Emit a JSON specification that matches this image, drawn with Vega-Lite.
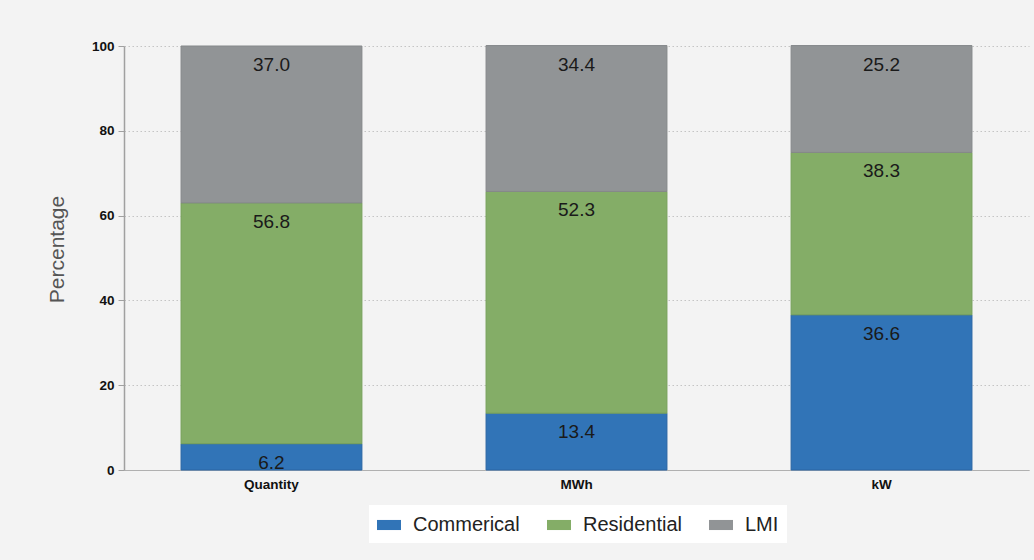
{
  "$schema": "https://vega.github.io/schema/vega-lite/v6.json",
  "width": 905,
  "height": 424,
  "autosize": {"type": "none"},
  "padding": {"left": 124, "top": 46, "right": 5, "bottom": 90},
  "background": "#f3f3f3",
  "config": {
    "view": {"stroke": null},
    "font": "Liberation Sans"
  },
  "data": {
    "values": [
      {"category": "Quantity", "type": "Commerical", "ord": 1, "value": 6.2},
      {"category": "Quantity", "type": "Residential", "ord": 2, "value": 56.8},
      {"category": "Quantity", "type": "LMI", "ord": 3, "value": 37.0},
      {"category": "MWh", "type": "Commerical", "ord": 1, "value": 13.4},
      {"category": "MWh", "type": "Residential", "ord": 2, "value": 52.3},
      {"category": "MWh", "type": "LMI", "ord": 3, "value": 34.4},
      {"category": "kW", "type": "Commerical", "ord": 1, "value": 36.6},
      {"category": "kW", "type": "Residential", "ord": 2, "value": 38.3},
      {"category": "kW", "type": "LMI", "ord": 3, "value": 25.2}
    ]
  },
  "encoding": {
    "x": {
      "field": "category",
      "type": "nominal",
      "sort": ["Quantity", "MWh", "kW"],
      "scale": {"paddingInner": 0.407, "paddingOuter": 0.187},
      "axis": {
        "title": null,
        "labelAngle": 0,
        "labelFont": "Liberation Sans",
        "labelFontWeight": "bold",
        "labelFontSize": 13.5,
        "labelColor": "#111111",
        "labelPadding": 7,
        "ticks": false,
        "domain": true,
        "domainColor": "#b0b0b0",
        "domainWidth": 1
      }
    },
    "y": {
      "field": "value",
      "type": "quantitative",
      "stack": "zero",
      "scale": {"domain": [0, 100], "nice": false},
      "axis": {
        "title": "Percentage",
        "titleFont": "Liberation Sans",
        "titleFontSize": 21,
        "titleFontWeight": "normal",
        "titleColor": "#555555",
        "titlePadding": 24,
        "titleY": 203,
        "values": [0, 20, 40, 60, 80, 100],
        "labelFont": "Liberation Sans",
        "labelFontWeight": "bold",
        "labelFontSize": 13.5,
        "labelColor": "#111111",
        "labelPadding": 4,
        "tickSize": 6,
        "tickColor": "#a0a0a0",
        "domainColor": "#a0a0a0",
        "domainWidth": 1.5,
        "grid": true,
        "gridColor": "#c4c4c4",
        "gridDash": [1.5, 2.5],
        "gridWidth": 1.2
      }
    },
    "order": {"field": "ord", "type": "quantitative"}
  },
  "layer": [
    {
      "mark": {"type": "bar", "strokeWidth": 1},
      "encoding": {
        "color": {
          "field": "type",
          "type": "nominal",
          "sort": ["Commerical", "Residential", "LMI"],
          "scale": {
            "domain": ["Commerical", "Residential", "LMI"],
            "range": ["#3174b7", "#84ad67", "#919496"]
          },
          "legend": {
            "title": null,
            "orient": "none",
            "direction": "horizontal",
            "legendX": 245,
            "legendY": 459,
            "fillColor": "#ffffff",
            "padding": 8,
            "labelFont": "Liberation Sans",
            "labelFontSize": 20,
            "labelColor": "#222222",
            "labelOffset": 12,
            "columnPadding": 27,
            "symbolType": "M-1,-0.42H1V0.42H-1Z",
            "symbolSize": 576,
            "symbolStrokeWidth": 0,
            "symbolOpacity": 1
          }
        },
        "stroke": {
          "field": "type",
          "type": "nominal",
          "scale": {
            "domain": ["Commerical", "Residential", "LMI"],
            "range": ["#2a65a3", "#76a05a", "#85888a"]
          },
          "legend": null
        }
      }
    },
    {
      "mark": {
        "type": "text",
        "dy": 19,
        "baseline": "middle",
        "align": "center",
        "font": "Liberation Sans",
        "fontSize": 19,
        "color": "#1a1a1a"
      },
      "encoding": {
        "text": {"field": "value", "type": "quantitative", "format": ".1f"}
      }
    }
  ]
}
